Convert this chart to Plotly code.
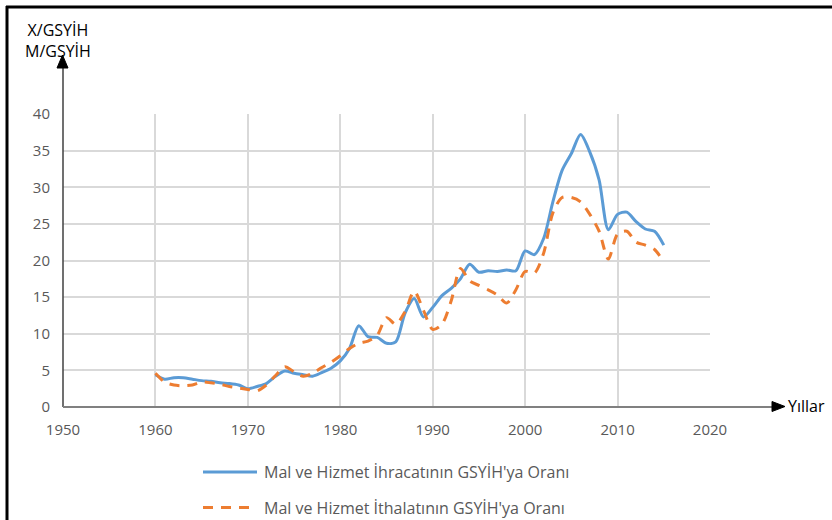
import plotly.graph_objects as go

years = list(range(1960, 2016))

exports = [4.4, 3.8, 4.0, 4.0, 3.8, 3.6, 3.5, 3.3, 3.2, 3.0,
           2.5, 2.8, 3.2, 4.2, 4.9, 4.6, 4.4, 4.2, 4.7, 5.3,
           6.3, 8.0, 11.1, 9.6, 9.5, 8.7, 8.9, 12.8, 14.8, 12.3,
           13.6, 15.2, 16.2, 17.5, 19.5, 18.4, 18.6, 18.5, 18.7, 18.6,
           21.3, 20.8, 23.0, 28.0, 32.3, 34.6, 37.2, 34.8, 31.0, 24.2,
           26.3, 26.6, 25.3, 24.3, 24.0, 22.1]

imports = [4.6, 3.4, 3.0, 2.9, 3.0, 3.4, 3.3, 3.1, 2.8, 2.6,
           2.4, 2.2, 3.0, 4.3, 5.5, 4.8, 4.2, 4.6, 5.4, 6.1,
           7.0, 8.0, 8.7, 9.0, 9.8, 12.2, 11.3, 13.0, 15.8, 13.2,
           10.6, 11.3, 14.5, 18.9, 17.2, 16.6, 16.0, 15.3, 14.2, 16.0,
           18.5, 18.3, 21.0, 26.5, 28.6, 28.6, 28.0, 26.3, 24.0, 20.2,
           23.6, 24.0, 22.5, 22.1, 21.5, 19.8]

x_ticks = [1950, 1960, 1970, 1980, 1990, 2000, 2010, 2020]
y_ticks = [0, 5, 10, 15, 20, 25, 30, 35, 40]

name_exp = "Mal ve Hizmet İhracatının GSYİH'ya Oranı"
name_imp = "Mal ve Hizmet İthalatının GSYİH'ya Oranı"
y_title = ["X/GSYİH", "M/GSYİH"]
x_title = "Yıllar"

W, H = 832, 520
L, R, T, B = 63, 710, 114, 407


def px(x):
    return (x - L) / (R - L)


def py(y):
    return (B - y) / (B - T)


BLUE = "#5B9BD5"
ORANGE = "#ED7D31"
FONT = "Open Sans"

fig = go.Figure()
fig.add_trace(go.Scatter(
    x=years, y=exports, mode="lines", name=name_exp, showlegend=False,
    line=dict(color=BLUE, width=3, shape="spline", smoothing=0.8)))
fig.add_trace(go.Scatter(
    x=years, y=imports, mode="lines", name=name_imp, showlegend=False,
    line=dict(color=ORANGE, width=3, shape="spline", smoothing=0.8, dash="10px,8px")))

shapes = []
# axis lines
shapes.append(dict(type="line", xref="paper", yref="paper", x0=0, x1=0, y0=0, y1=py(66),
                   line=dict(color="#404040", width=1.5)))
shapes.append(dict(type="path", xref="paper", yref="paper",
                   path=f"M {px(62.5)},{py(55)} L {px(57)},{py(68)} L {px(68)},{py(68)} Z",
                   fillcolor="black", line=dict(color="black", width=1)))
shapes.append(dict(type="line", xref="paper", yref="paper", x0=0, x1=px(774), y0=0, y1=0,
                   line=dict(color="#808080", width=2)))
shapes.append(dict(type="path", xref="paper", yref="paper",
                   path=f"M {px(785)},{py(406.5)} L {px(772)},{py(401.5)} L {px(772)},{py(411.5)} Z",
                   fillcolor="black", line=dict(color="black", width=1)))
# outer frame (left and top)
shapes.append(dict(type="line", xref="paper", yref="paper", x0=px(7), x1=px(7), y0=py(530), y1=py(6),
                   line=dict(color="black", width=3)))
shapes.append(dict(type="line", xref="paper", yref="paper", x0=px(6), x1=px(840), y0=py(7), y1=py(7),
                   line=dict(color="black", width=3)))
# manual legend lines
shapes.append(dict(type="line", xref="paper", yref="paper", x0=px(203), x1=px(257), y0=py(472), y1=py(472),
                   line=dict(color=BLUE, width=3)))
shapes.append(dict(type="line", xref="paper", yref="paper", x0=px(203), x1=px(257), y0=py(507.5), y1=py(507.5),
                   line=dict(color=ORANGE, width=3, dash="10px,8px")))

annotations = [
    dict(text="<br>".join(y_title), xref="paper", yref="paper", x=px(57.5), y=py(40), xanchor="center",
         yanchor="middle", align="center", showarrow=False, font=dict(family=FONT, size=16, color="black")),
    dict(text=x_title, xref="paper", yref="paper", x=px(786), y=py(406), xanchor="left", yanchor="middle",
         showarrow=False, font=dict(family=FONT, size=16, color="black")),
    dict(text=name_exp, xref="paper", yref="paper", x=px(262), y=py(471.5), xanchor="left", yanchor="middle",
         showarrow=False, font=dict(family=FONT, size=16, color="#595959")),
    dict(text=name_imp, xref="paper", yref="paper", x=px(262), y=py(508), xanchor="left", yanchor="middle",
         showarrow=False, font=dict(family=FONT, size=16, color="#595959")),
]

fig.update_layout(
    width=W, height=H,
    margin=dict(l=L, r=W - R, t=T, b=H - B, pad=0),
    paper_bgcolor="white", plot_bgcolor="white",
    font=dict(family=FONT, size=15, color="#595959"),
    showlegend=False,
    shapes=shapes,
    annotations=annotations,
    xaxis=dict(range=[1950, 2020], tickvals=x_ticks, showgrid=True, gridcolor="#D9D9D9", gridwidth=1.5,
               showline=False, zeroline=False, ticks="", ticklabelstandoff=12,
               tickfont=dict(family=FONT, size=15, color="#595959")),
    yaxis=dict(range=[0, 40], tickvals=y_ticks, showgrid=True, gridcolor="#D9D9D9", gridwidth=1.5,
               showline=False, zeroline=False, ticks="", ticklabelstandoff=12,
               tickfont=dict(family=FONT, size=15, color="#595959")),
)

fig.write_html("out.html", config={"displayModeBar": False},
               post_script="document.body.style.margin='0';document.body.style.overflow='hidden';")
